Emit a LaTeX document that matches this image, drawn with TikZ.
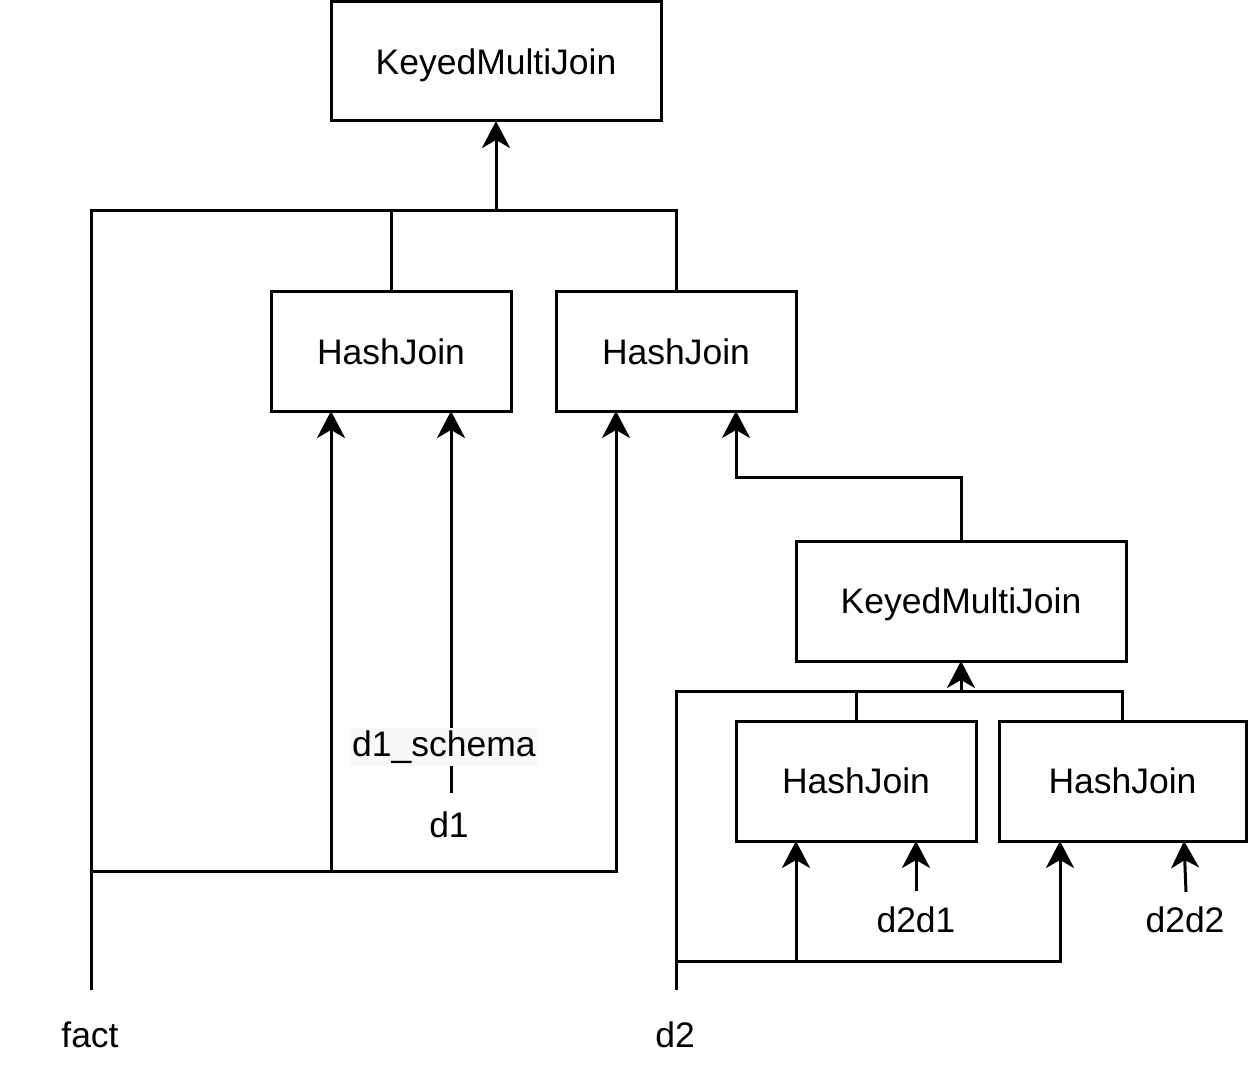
\documentclass[tikz,border=0pt]{standalone}
\usepackage{fontspec}
\setmainfont{Liberation Sans}
\usetikzlibrary{arrows.meta}
\definecolor{lblbg}{RGB}{248,248,248}
\begin{document}
\begin{tikzpicture}[x=1pt,y=-1pt,
  every node/.style={font=\fontsize{35.5}{40}\selectfont, inner sep=0pt},
  box/.style={draw, line width=3pt, outer sep=0pt, minimum height=119pt},
  wide/.style={box, minimum width=330pt, text depth=0pt},
  hj/.style={box, minimum width=240pt},
  conn/.style={line width=3pt},
  arr/.style={conn, -{Stealth[length=27pt,width=28pt,inset=8pt]}}]
\useasboundingbox (0,0) rectangle (1248,1083);
\fill[white] (0,0) rectangle (1248,1083);

% boxes
\node[wide] (kmj1) at (496,61.5) {KeyedMultiJoin};
\node[hj] (hjA) at (391,351.5) {HashJoin};
\node[hj] (hjB) at (676,351.5) {HashJoin};
\node[wide, minimum height=120pt] (kmj2) at (961,601) {KeyedMultiJoin};
\node[hj, minimum height=120pt] (hjC) at (856,781) {HashJoin};
\node[hj, minimum height=120pt, minimum width=247pt] (hjD) at (1122.5,781) {HashJoin};

% labels
\node (fact) at (90,1035) {fact};
\node (d2) at (675,1035) {d2};
\node (d1) at (449,825) {d1};
\node (d2d1) at (916,920) {d2d1};
\node (d2d2) at (1185,920) {d2d2};

% junctions / free ends
\coordinate (fe) at (91,990);
\coordinate (j1) at (496,211);
\coordinate (j2) at (91,871);
\coordinate (d2e) at (676,990);
\coordinate (j3) at (961,691);
\coordinate (j4) at (676,961);
\coordinate (d1e) at (451,793);
\coordinate (d2d1e) at (916,891);
\coordinate (d2d2e) at (1186,892);

% upper tree
\draw[arr] (fe) |- (j1) -- (kmj1.south);
\draw[conn] (hjA.north) |- (j1);
\draw[conn] (hjB.north) |- (j1);
\draw[arr] (fe) -- (j2) -| ([xshift=-60pt]hjA.south);
\draw[arr] (j2) -| ([xshift=-60pt]hjB.south);
\draw[arr] (d1e) -- ([xshift=60pt]hjA.south);
\node[fill=lblbg, inner xsep=1pt, inner ysep=3pt] (d1s) at (444,747) {d1\_schema};
\draw[arr] (kmj2.north) -- ++(0,-64) -| ([xshift=60pt]hjB.south);

% lower tree
\draw[arr] (d2e) |- (j3) -- (kmj2.south);
\draw[conn] (hjC.north) |- (j3);
\draw[conn] (hjD.north) |- (j3);
\draw[arr] (d2e) -- (j4) -| ([xshift=-60pt]hjC.south);
\draw[arr] (j4) -| ([xshift=-62.5pt]hjD.south);
\draw[arr] (d2d1e) -- ([xshift=60pt]hjC.south);
\draw[arr] (d2d2e) -- ([xshift=61.5pt]hjD.south);
\end{tikzpicture}
\end{document}
